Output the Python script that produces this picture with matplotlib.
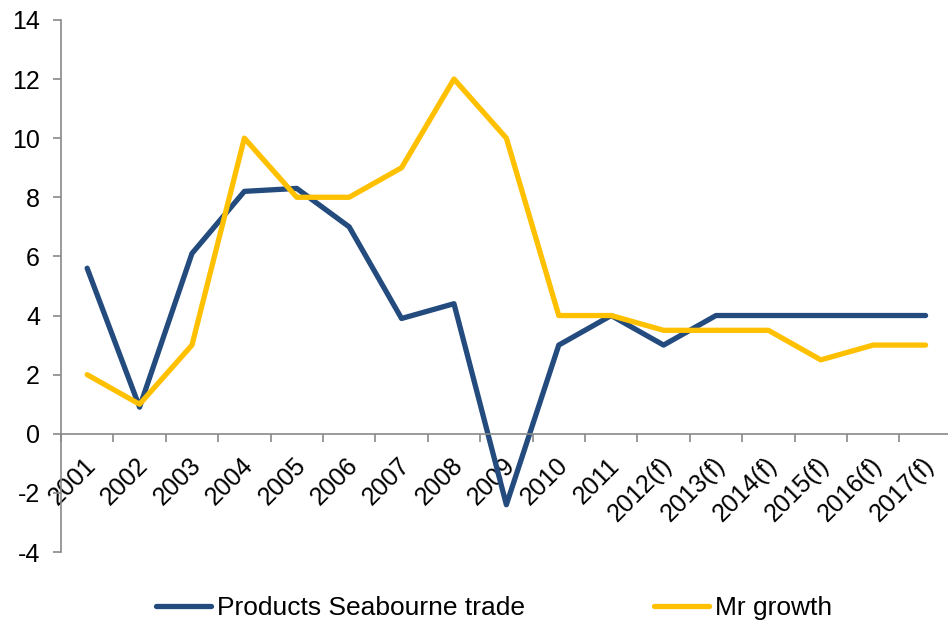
import matplotlib.pyplot as plt
import matplotlib.transforms as mtransforms
import numpy as np

years = ["2001", "2002", "2003", "2004", "2005", "2006", "2007", "2008", "2009",
         "2010", "2011", "2012(f)", "2013(f)", "2014(f)", "2015(f)", "2016(f)", "2017(f)"]
seaborne_trade = [5.6, 0.9, 6.1, 8.2, 8.3, 7.0, 3.9, 4.4, -2.4, 3.0, 4.0, 3.0, 4.0, 4.0, 4.0, 4.0, 4.0]
mr_growth = [2.0, 1.0, 3.0, 10.0, 8.0, 8.0, 9.0, 12.0, 10.0, 4.0, 4.0, 3.5, 3.5, 3.5, 2.5, 3.0, 3.0]

plt.rcParams["font.family"] = ["Liberation Sans", "DejaVu Sans"]
plt.rcParams["axes.unicode_minus"] = False

fig = plt.figure(figsize=(9.48, 6.22), dpi=100)
# plot area runs slightly past the right edge of the image, as in the original
ax = fig.add_axes([0.0643, 0.1125, 0.9397, 0.8555])

x = np.arange(len(years)) + 0.5
ax.plot(x, seaborne_trade, color="#234B7D", linewidth=3.8, solid_capstyle="round",
        label="Products Seabourne trade")
ax.plot(x, mr_growth, color="#FFC000", linewidth=3.8, solid_capstyle="round",
        label="Mr growth")

ax.set_xlim(0, len(years))
ax.set_ylim(-4, 14)
ax.set_yticks(np.arange(-4, 15, 2))

ax.spines["top"].set_visible(False)
ax.spines["right"].set_visible(False)
ax.spines["bottom"].set_position(("data", 0))
for side in ["left", "bottom"]:
    ax.spines[side].set_color("#898989")
    ax.spines[side].set_linewidth(1.2)

ax.set_xticks(np.arange(0, len(years) + 1))
ax.set_xticklabels([])
ax.set_xticks(x, minor=True)
ax.set_xticklabels(years, minor=True, rotation=45, ha="right", va="center",
                   rotation_mode="anchor", fontsize=18)
ax.tick_params(axis="x", which="major", length=6, width=1.2, color="#898989")
ax.tick_params(axis="x", which="minor", length=0, pad=20)
ax.tick_params(axis="y", length=6, width=1.2, color="#898989", labelsize=18, pad=9)

# nudge the rotated year labels a little to the right, like the original
shift = mtransforms.ScaledTranslation(5 / 100, 0, fig.dpi_scale_trans)
for lbl in ax.get_xticklabels(minor=True):
    lbl.set_transform(lbl.get_transform() + shift)

fig.legend(loc="center", bbox_to_anchor=(0.521, 0.022), ncol=2, frameon=False,
           fontsize=19, handlelength=2.1, handletextpad=0.2, columnspacing=4.9)

fig.savefig("out.png", dpi=100)
